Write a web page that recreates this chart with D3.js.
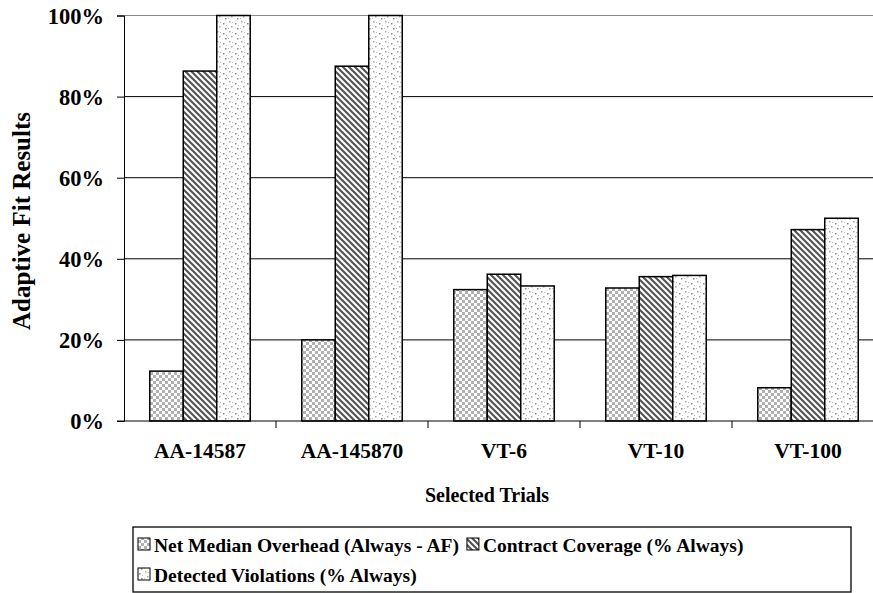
<!DOCTYPE html>
<html><head><meta charset="utf-8">
<script src="https://cdn.jsdelivr.net/npm/d3@7"></script>
<style>body{margin:0;background:#fff}svg{display:block}text{font-family:"Liberation Serif","Times New Roman",serif;font-weight:700;fill:#000}</style>
</head><body>
<script>
const categories = ["AA-14587","AA-145870","VT-6","VT-10","VT-100"];
const seriesNames = ["Net Median Overhead (Always - AF)","Contract Coverage (% Always)","Detected Violations (% Always)"];
const overhead = [12.3, 20.0, 32.4, 32.8, 8.2];
const coverage = [86.3, 87.5, 36.2, 35.6, 47.2];
const violations = [100, 100, 33.3, 35.9, 50.0];
const yTicks = [0,20,40,60,80,100];

const W=873,H=593;
const svg=d3.select("body").append("svg").attr("width",W).attr("height",H);
const defs=svg.append("defs");
// checker
const p1=defs.append("pattern").attr("id","pat0").attr("patternUnits","userSpaceOnUse").attr("width",6).attr("height",6);
p1.append("rect").attr("width",6).attr("height",6).attr("fill","#fff");
p1.append("rect").attr("width",3).attr("height",3).attr("fill","#b0b0b0");
p1.append("rect").attr("x",3).attr("y",3).attr("width",3).attr("height",3).attr("fill","#b0b0b0");
// diagonal stripes
const p2=defs.append("pattern").attr("id","pat1").attr("patternUnits","userSpaceOnUse").attr("width",6).attr("height",6);
p2.append("rect").attr("width",6).attr("height",6).attr("fill","#fff");
p2.append("path").attr("d","M-1,-1 L7,7 M-4,2 L2,8 M4,-2 L8,2").attr("stroke","#555").attr("stroke-width",2.2);
// dots
const p3=defs.append("pattern").attr("id","pat2").attr("patternUnits","userSpaceOnUse").attr("width",12).attr("height",10);
p3.append("rect").attr("width",12).attr("height",10).attr("fill","#fff");
[[1,1],[7,3],[3,6],[9,8]].forEach(([x,y],i)=>p3.append("rect").attr("x",x).attr("y",y).attr("width",1.5).attr("height",1.5).attr("fill",i%2?"#888":"#aaa"));
[[4,2],[10,5],[0,8]].forEach(([x,y])=>p3.append("rect").attr("x",x).attr("y",y).attr("width",1).attr("height",1).attr("fill","#bbb"));

const m={l:124,t:15.5,r:884,b:421};
const x=d3.scaleBand().domain(categories).range([m.l,m.r]).paddingInner(0).paddingOuter(0);
const y=d3.scaleLinear().domain([0,100]).range([m.b,m.t]);

// gridlines
svg.append("g").selectAll("line").data(yTicks.filter(d=>d>0)).join("line")
 .attr("x1",m.l).attr("x2",m.r).attr("y1",d=>y(d)).attr("y2",d=>y(d))
 .attr("stroke",d=>d===100?"#888":"#000").attr("stroke-width",1);

const data=[overhead,coverage,violations];
const bw=33.5;
const g=svg.append("g");
categories.forEach((c,i)=>{
  const cx=x(c)+x.bandwidth()/2;
  data.forEach((s,j)=>{
    g.append("rect").attr("x",cx-1.5*bw+j*bw).attr("y",y(s[i])).attr("width",bw).attr("height",y(0)-y(s[i]))
     .attr("fill",`url(#pat${j})`).attr("stroke","#000").attr("stroke-width",1.5);
  });
});

// y axis
const ya=svg.append("g").attr("transform",`translate(${m.l},0)`)
 .call(d3.axisLeft(y).tickValues(yTicks).tickFormat(d=>d+"%").tickSize(7).tickPadding(13));
ya.select(".domain").attr("stroke","#000");
ya.selectAll("text").style("font-size","22.5px").attr("dy","0.35em");
// x axis
const xa=svg.append("g").attr("transform",`translate(0,${m.b})`)
 .call(d3.axisBottom(x).tickSize(0).tickPadding(22));
xa.select(".domain").remove();
svg.append("line").attr("x1",m.l-7).attr("x2",m.r).attr("y1",m.b).attr("y2",m.b).attr("stroke","#000");
svg.append("g").selectAll("line").data(categories.slice(1)).join("line")
 .attr("x1",d=>x(d)).attr("x2",d=>x(d)).attr("y1",m.b).attr("y2",m.b+7).attr("stroke","#000");
xa.selectAll("text").style("font-size","21.5px");

svg.append("text").attr("x",487).attr("y",502).attr("text-anchor","middle").style("font-size","20px").text("Selected Trials");
svg.append("text").attr("transform","translate(30,221) rotate(-90)").attr("text-anchor","middle").style("font-size","25px").text("Adaptive Fit Results");

// legend
svg.append("rect").attr("x",133).attr("y",527).attr("width",718).attr("height",65).attr("fill","#fff").attr("stroke","#000").attr("stroke-width",1.3);
let nextX=138;
const rows=[545,545,575];
seriesNames.forEach((n,j)=>{
  const ly=rows[j];
  const lx = j===2 ? 138 : nextX;
  svg.append("rect").attr("x",lx).attr("y",ly-7).attr("width",12).attr("height",12).attr("fill",`url(#pat${j})`).attr("stroke","#000").attr("stroke-width",1);
  const t=svg.append("text").attr("x",lx+16).attr("y",ly+6.5).style("font-size","19.5px").text(n);
  nextX=Math.max(452, lx+16+t.node().getComputedTextLength()+8);
});
</script>
</body></html>
